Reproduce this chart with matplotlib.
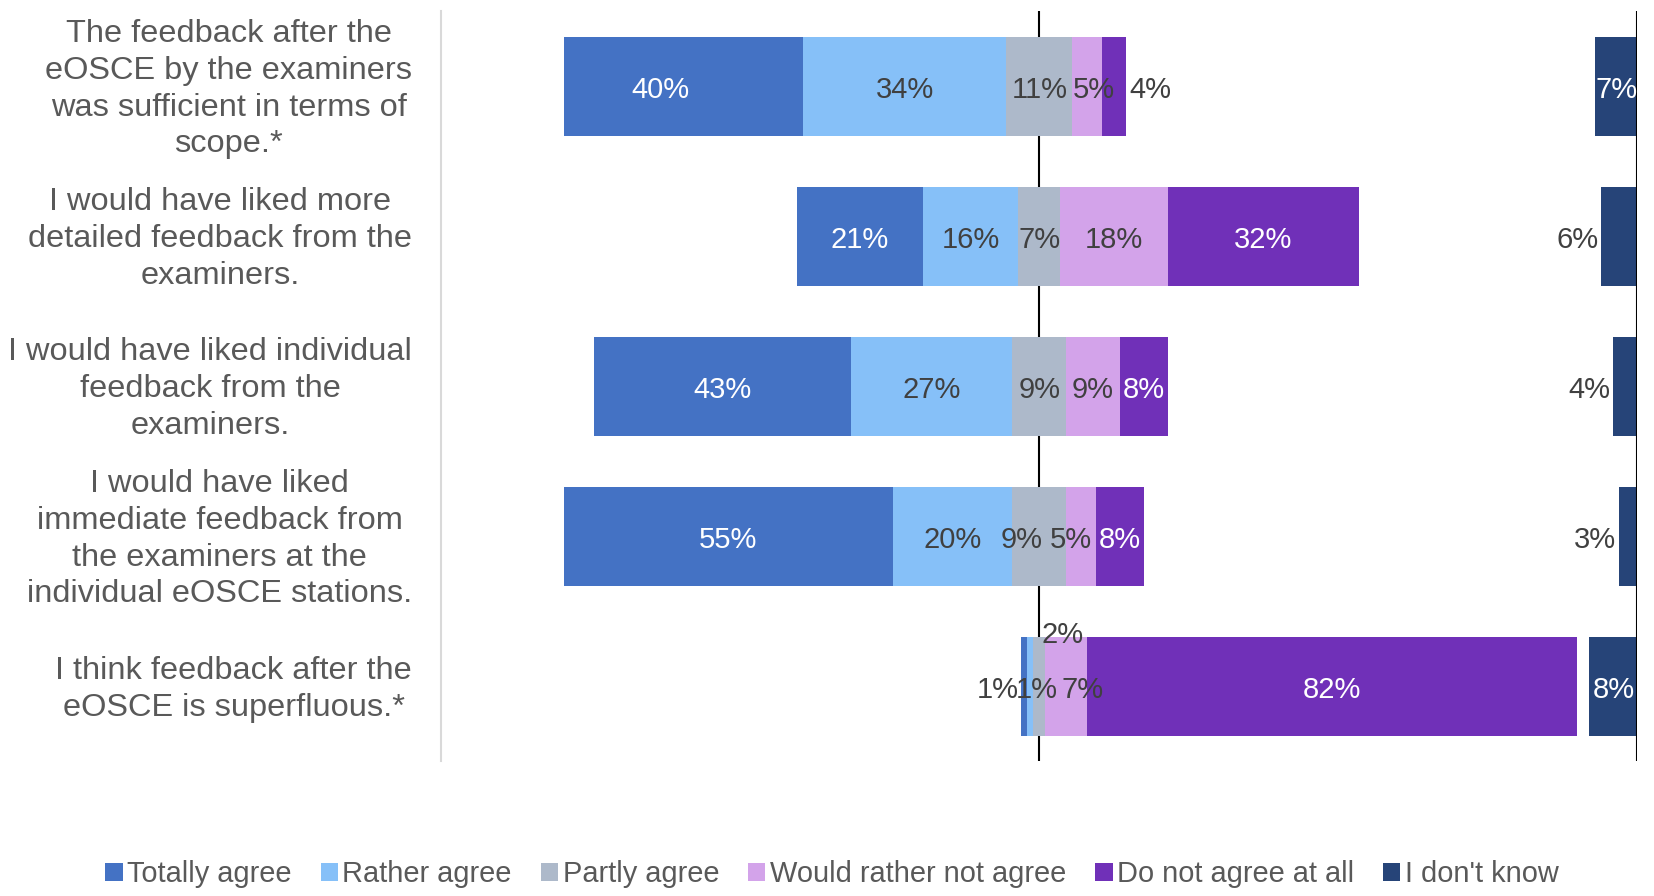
import matplotlib
matplotlib.use("Agg")
import matplotlib.pyplot as plt
from matplotlib.patches import Patch

# ---------------- data ----------------
questions = [
    "The feedback after the\neOSCE by the examiners\nwas sufficient in terms of\nscope.*",
    "I would have liked more\ndetailed feedback from the\nexaminers.",
    "I would have liked individual\nfeedback from the\nexaminers.",
    "I would have liked\nimmediate feedback from\nthe examiners at the\nindividual eOSCE stations.",
    "I think feedback after the\neOSCE is superfluous.*",
]
series_names = ["Totally agree", "Rather agree", "Partly agree",
                "Would rather not agree", "Do not agree at all", "I don't know"]
totally_agree = [40, 21, 43, 55, 1]
rather_agree = [34, 16, 27, 20, 1]
partly_agree = [11, 7, 9, 9, 2]
rather_not_agree = [5, 18, 9, 5, 7]
not_agree_at_all = [4, 32, 8, 8, 82]
dont_know = [7, 6, 4, 3, 8]

# ---------------- style ----------------
colors = ["#4472C4", "#86C0F8", "#ADB9CA", "#D3A3EA", "#7030B8", "#264478"]
label_colors = ["white", "#404040", "#404040", "#404040", "white", "white"]
DARK = "#404040"
CAT_COLOR = "#595959"
FONT = ["Liberation Sans", "DejaVu Sans"]
plt.rcParams["font.family"] = FONT

# special label placement (styling): (row, series) -> (mode, dx_points)
special = {
    (0, 0): ("center", -16.5),
    (0, 4): ("out_right", 0),
    (0, 3): ("center", 5),
    (1, 5): ("out_left", 0),
    (2, 5): ("out_left", 0),
    (3, 5): ("out_left", 0),
    (3, 2): ("center", -12.5),
    (3, 3): ("center", -7.5),
    (4, 0): ("out_left", 0),
    (4, 1): ("center", 4.5),
    (4, 2): ("above", 0),
    (4, 3): ("center", 11.5),
}

fig = plt.figure(figsize=(16.54, 8.96), dpi=100)
ax = fig.add_axes([0.2668, 0.1503, 0.7231, 0.8371])

n = len(questions)
ypos = list(range(n))
bar_h = 0.663

series = [totally_agree, rather_agree, partly_agree, rather_not_agree,
          not_agree_at_all]
starts = [-(totally_agree[i] + rather_agree[i] + partly_agree[i] / 2.0)
          for i in range(n)]

lefts_all = []
cur = list(starts)
for s in series:
    lefts_all.append(list(cur))
    cur = [cur[i] + s[i] for i in range(n)]
lefts_all.append([100 - dont_know[i] for i in range(n)])
all_series = series + [dont_know]

for k, (vals, lefts) in enumerate(zip(all_series, lefts_all)):
    ax.barh(ypos, vals, left=lefts, height=bar_h, color=colors[k],
            label=series_names[k], zorder=2, linewidth=0)

# reference lines
ax.axvline(0, color="black", lw=1.5, zorder=1)
ax.axvline(100, color="black", lw=1.5, zorder=3)

# data labels
LBL_FS = 21
for k, (vals, lefts) in enumerate(zip(all_series, lefts_all)):
    for i in range(n):
        v = vals[i]
        txt = f"{v}%"
        mode, dx = special.get((i, k), ("center", 0))
        col = label_colors[k]
        if mode == "center":
            x = lefts[i] + v / 2.0
            ax.annotate(txt, xy=(x, ypos[i]), xytext=(dx, -8.3),
                        textcoords="offset points", ha="center",
                        va="baseline", fontsize=LBL_FS, color=col, zorder=4)
        elif mode == "out_right":
            x = lefts[i] + v
            ax.annotate(txt, xy=(x, ypos[i]), xytext=(2.2, -8.3),
                        textcoords="offset points", ha="left",
                        va="baseline", fontsize=LBL_FS, color=DARK, zorder=4)
        elif mode == "out_left":
            x = lefts[i]
            ax.annotate(txt, xy=(x, ypos[i]), xytext=(-2.2, -8.3),
                        textcoords="offset points", ha="right",
                        va="baseline", fontsize=LBL_FS, color=DARK, zorder=4)
        elif mode == "above":
            x = lefts[i] + v / 2.0
            ax.annotate(txt, xy=(x, ypos[i] - bar_h / 2.0), xytext=(1.5, -4.6),
                        textcoords="offset points", ha="left",
                        va="baseline", fontsize=LBL_FS, color=DARK, zorder=4)

ax.set_xlim(-100, 100)
ax.set_ylim(n - 0.5, -0.5)
ax.set_xticks([])
ax.set_yticks(ypos)
ax.set_yticklabels([""] * n)
ax.tick_params(axis="y", length=0)

# category labels (right-aligned block, centred lines)
for i, q in enumerate(questions):
    ax.annotate(q, xy=(0, ypos[i]), xycoords=ax.get_yaxis_transform(),
                xytext=(-21, 3), textcoords="offset points",
                ha="right", va="center_baseline", multialignment="center",
                linespacing=1.3, fontsize=23.4, color=CAT_COLOR,
                annotation_clip=False)

for s in ["top", "right", "bottom"]:
    ax.spines[s].set_visible(False)
ax.spines["left"].set_color("#D9D9D9")
ax.spines["left"].set_linewidth(1.5)

handles = [Patch(facecolor=colors[k], edgecolor="none") for k in range(6)]
fig.legend(handles, series_names, loc="center", bbox_to_anchor=(0.503, 0.024),
           ncol=6, frameon=False, fontsize=20.9, labelcolor=CAT_COLOR,
           handlelength=0.6, handleheight=0.6, handletextpad=0.15,
           columnspacing=1.0, borderaxespad=0)

fig.savefig("out.png", dpi=100)
